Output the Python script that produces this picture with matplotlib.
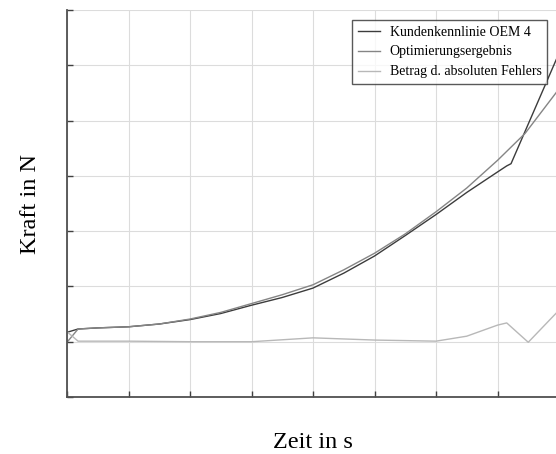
import numpy as np
import matplotlib.pyplot as plt

plt.rcParams['font.family'] = ['Liberation Serif', 'DejaVu Serif']

# values (arbitrary units, no tick labels shown)
zeit = [0, 0.18, 0.5, 1, 1.5, 2, 2.5, 3, 3.5, 4, 4.5, 5, 5.5, 6, 6.5, 7,
        7.15, 7.22, 7.95, 8.1]
kunde = [1.17, 1.23, 1.25, 1.27, 1.32, 1.40, 1.51, 1.66, 1.80, 1.97, 2.24,
         2.55, 2.92, 3.30, 3.70, 4.07, 4.18, 4.22, 6.09, 6.45]

zeit_opt = [0, 0.18, 0.5, 1, 1.5, 2, 2.5, 3, 3.5, 4, 4.5, 5, 5.5, 6, 6.5, 7,
            7.45, 7.95, 8.1]
optimierung = [0.99, 1.23, 1.25, 1.27, 1.32, 1.41, 1.53, 1.69, 1.85, 2.03,
               2.30, 2.60, 2.95, 3.35, 3.78, 4.28, 4.77, 5.5, 5.75]

zeit_err = [0, 0.18, 1, 2, 3, 4, 5, 6, 6.5, 7, 7.15, 7.5, 8.0, 8.1]
fehler = [1.18, 1.01, 1.01, 1.0, 1.0, 1.07, 1.03, 1.01, 1.1, 1.3, 1.34, 0.99,
          1.57, 1.65]

labels = ['Kundenkennlinie OEM 4', 'Optimierungsergebnis', 'Betrag d. absoluten Fehlers']

fig = plt.figure(figsize=(5.56, 4.54), dpi=100)
ax = fig.add_axes([67 / 556, 57 / 454, 492 / 556, 387 / 454])

ax.plot(zeit, kunde, color='#3c3c3c', lw=1.0, label=labels[0])
ax.plot(zeit_opt, optimierung, color='#858585', lw=1.0, label=labels[1])
ax.plot(zeit_err, fehler, color='#b8b8b8', lw=1.0, label=labels[2])

ax.set_xlim(0, 8)
ax.set_ylim(0, 7)
ax.set_xticks(np.arange(0, 9, 1))
ax.set_yticks(np.arange(0, 8, 1))
ax.set_xticklabels([])
ax.set_yticklabels([])
ax.tick_params(direction='in', length=4, width=1, color='#404040')
ax.grid(True, color='#dcdcdc', lw=0.8)
ax.set_axisbelow(True)

for s in ['top', 'right']:
    ax.spines[s].set_visible(False)
for s in ['left', 'bottom']:
    ax.spines[s].set_color('#505050')
    ax.spines[s].set_linewidth(1.3)

ax.set_xlabel('Zeit in s', fontsize=17.5, labelpad=22)
ax.set_ylabel('Kraft in N', fontsize=17.5, labelpad=15.5)

leg = ax.legend(loc='upper right', bbox_to_anchor=(547 / 556, 1 - 20 / 454),
                bbox_transform=fig.transFigure, fontsize=10, frameon=True,
                fancybox=False, handlelength=1.6, borderpad=0.4,
                labelspacing=0.5, handletextpad=0.7, borderaxespad=0)
leg.get_frame().set_edgecolor('#303030')
leg.get_frame().set_linewidth(1.0)

plt.savefig('out.png', dpi=100)
